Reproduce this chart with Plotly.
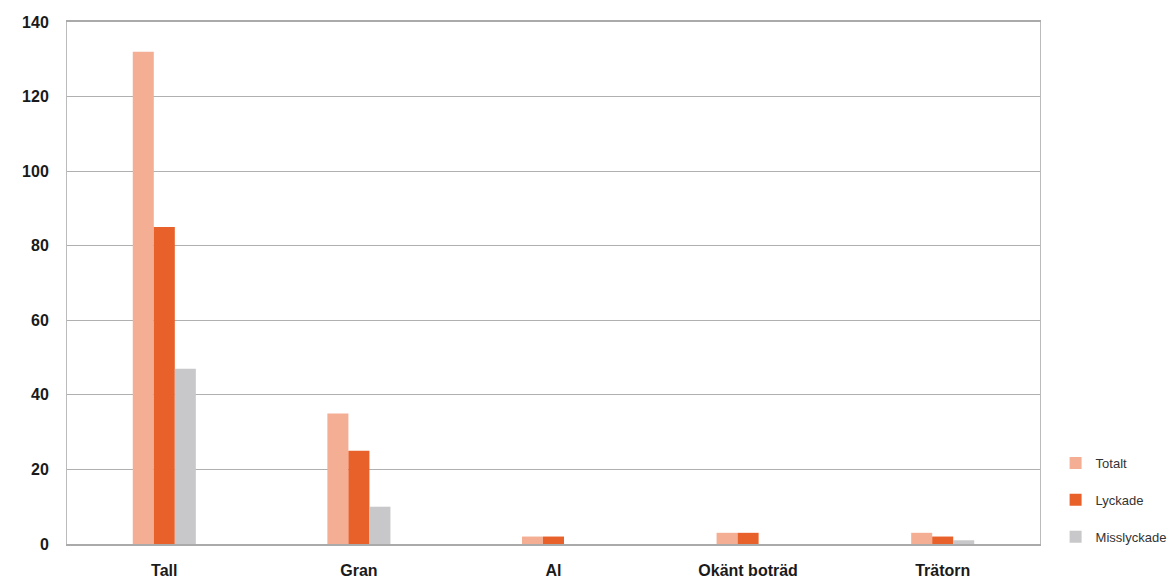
import plotly.graph_objects as go

categories = ["Tall", "Gran", "Al", "Okänt boträd", "Trätorn"]
totalt = [132, 35, 2, 3, 3]
lyckade = [85, 25, 2, 3, 2]
misslyckade = [47, 10, 0, 0, 1]

series = [
    ("Totalt", totalt, "#F4AE93"),
    ("Lyckade", lyckade, "#E8602A"),
    ("Misslyckade", misslyckade, "#C8C8CA"),
]

fig = go.Figure()
for i, (name, vals, color) in enumerate(series):
    fig.add_trace(go.Bar(
        x=categories, y=vals, name=name, marker_color=color,
        marker_line_width=0, legendgroup=f"g{i}",
    ))

fig.update_layout(
    width=1169, height=578,
    margin=dict(l=67, r=129, t=22, b=34, autoexpand=False),
    plot_bgcolor="white", paper_bgcolor="white",
    barmode="group", bargap=0.676, bargroupgap=0,
    font=dict(family="Liberation Sans, Arial, sans-serif", color="#1a1a1a"),
    legend=dict(
        xref="container", yref="container",
        x=0.903, xanchor="left", y=0.135, yanchor="middle",
        font=dict(size=13, color="#333"),
        tracegroupgap=17, itemwidth=30,
        bgcolor="rgba(0,0,0,0)",
    ),
    xaxis=dict(
        showline=True, linecolor="#aaaaaa", linewidth=2, mirror=True,
        tickfont=dict(size=16, family="Liberation Sans, Arial, sans-serif", weight="bold"),
        ticks="", ticklabelstandoff=11, automargin=False,
    ),
    yaxis=dict(
        range=[0, 140], dtick=20, showgrid=True, gridcolor="#b0b0b0", gridwidth=1,
        showline=True, linecolor="#bbbbbb", linewidth=1, mirror=True,
        tickfont=dict(size=16, family="Liberation Sans, Arial, sans-serif", weight="bold"),
        ticks="", ticklabelstandoff=14, zeroline=False, automargin=False,
    ),
)

fig.write_html("out.html")
